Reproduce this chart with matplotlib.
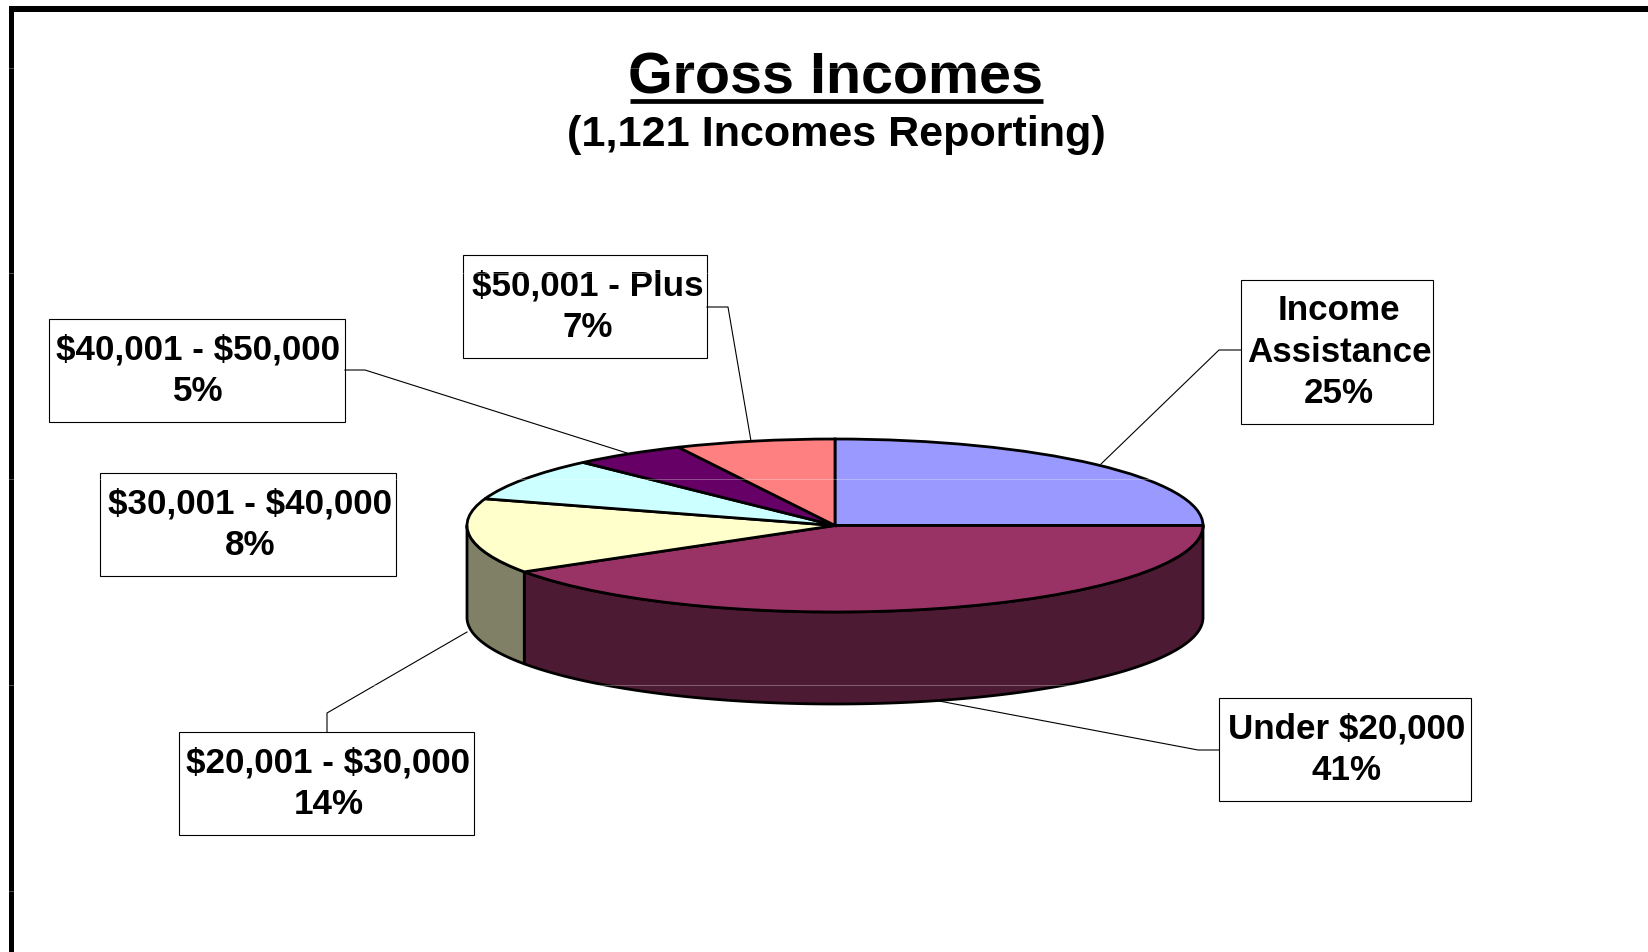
import numpy as np
import matplotlib
matplotlib.use('Agg')
import matplotlib.pyplot as plt
from matplotlib.patches import Rectangle

W, H = 1648, 952

# data
categories = ['Income\nAssistance', 'Under $20,000', '$20,001 - $30,000',
              '$30,001 - $40,000', '$40,001 - $50,000', '$50,001 - Plus']
shares = [25, 41, 14, 8, 5, 7]
top_colors = ['#9999FF', '#993366', '#FFFFCC', '#CCFFFF', '#660066', '#FF8080']
side_colors = ['#4D4D80', '#4D1A33', '#808066', '#668080', '#330033', '#804040']

# label boxes: x0, y0, x1, y1 in pixels
boxes = [(1241, 280, 1433, 424), (1219, 698, 1471, 801), (179, 732, 474, 835),
         (100, 473, 396, 576), (49, 319, 345, 422), (463, 255, 707, 358)]
text_shift = [(2, 0), (2, 0), (2, 0), (2, 0), (1, 0), (3, 0)]
leaders = [[(1241, 350), (1219, 350), (1101, 464)],
           [(1219, 750), (1198, 750), (939, 701)],
           [(327, 732), (327, 713), (467, 632)],
           None,
           [(345, 370), (365, 370), (627, 453)],
           [(707, 307), (728, 307), (751, 441)]]

plt.rcParams['font.family'] = 'Liberation Sans'
plt.rcParams['font.weight'] = 'bold'

fig = plt.figure(figsize=(W / 100, H / 100), dpi=100, facecolor='white')
ax = fig.add_axes([0, 0, 1, 1])
ax.set_xlim(0, W)
ax.set_ylim(H, 0)
ax.axis('off')

# frame of the sheet
ax.add_patch(Rectangle((9, 6), W, 5.5, color='black', lw=0))
ax.add_patch(Rectangle((9, 6), 5.5, H, color='black', lw=0))

ax.text(836, 78, 'Gross Incomes', fontsize=41.3, ha='center', va='center')
ax.plot([630, 1043], [100.5, 100.5], color='black', lw=3.4, solid_capstyle='butt')
ax.text(836, 135, '(1,121 Incomes Reporting)', fontsize=31.1, ha='center', va='center')

for i in range(len(categories)):
    x0, y0, x1, y1 = boxes[i]
    ax.add_patch(Rectangle((x0, y0), x1 - x0, y1 - y0, fc='white', ec='black', lw=0.8))
    label = categories[i] + '\n' + str(shares[i]) + '%'
    ax.text((x0 + x1) / 2 + text_shift[i][0], (y0 + y1) / 2 + text_shift[i][1], label,
            fontsize=25.2, ha='center', va='center', linespacing=1.33, parse_math=False)
    if leaders[i] is not None:
        xs = [p[0] for p in leaders[i]]
        ys = [p[1] for p in leaders[i]]
        ax.plot(xs, ys, color='black', lw=0.8)

# pie, squashed to an ellipse
cx0, cx1, cy0, cy1 = 467, 1203, 439, 612
pie_ax = fig.add_axes([cx0 / W, 1 - cy1 / H, (cx1 - cx0) / W, (cy1 - cy0) / H])
pie_ax.patch.set_alpha(0)
depth = 92 / ((cy1 - cy0) / 2)

ends = np.cumsum(shares) / sum(shares) * 360
starts = ends - np.array(shares) / sum(shares) * 360
for i in range(len(shares)):
    a0 = max(starts[i], 90)
    a1 = min(ends[i], 270)
    if a1 <= a0:
        continue
    t = np.radians(np.linspace(a0, a1, 200))
    xs = np.sin(t)
    ys = np.cos(t)
    px = np.concatenate([xs, xs[::-1]])
    py = np.concatenate([ys, ys[::-1] - depth])
    pie_ax.fill(px, py, fc=side_colors[i], ec='black', lw=2.0, clip_on=False, joinstyle='round')

pie_ax.pie(shares, colors=top_colors, startangle=90, counterclock=False, radius=1,
           wedgeprops={'edgecolor': 'black', 'linewidth': 2.0, 'clip_on': False})
pie_ax.set_aspect('auto')
pie_ax.set_xlim(-1, 1)
pie_ax.set_ylim(-1, 1)

# faint seams running across the scan
seam_ax = fig.add_axes([0, 0, 1, 1])
seam_ax.set_xlim(0, W)
seam_ax.set_ylim(H, 0)
seam_ax.axis('off')
for y in [68, 273, 479, 685, 891]:
    seam_ax.plot([0, W], [y, y], color='white', lw=0.7, alpha=0.3)

fig.savefig('out.png', dpi=100)
